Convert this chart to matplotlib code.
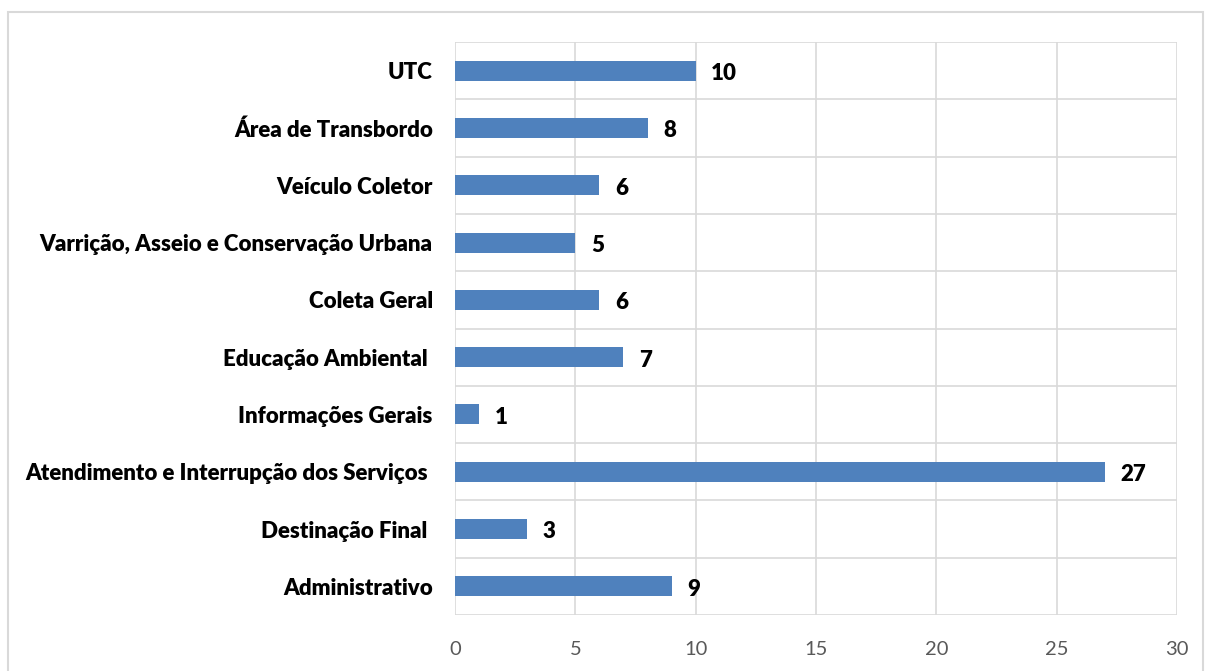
import matplotlib
matplotlib.use('Agg')
import matplotlib.pyplot as plt
import matplotlib.patches as patches
import numpy as np

# categories bottom to top
categories = ['Administrativo', 'Destinação Final ', 'Atendimento e Interrupção dos Serviços ',
              'Informações Gerais', 'Educação Ambiental ', 'Coleta Geral',
              'Varrição, Asseio e Conservação Urbana', 'Veículo Coletor',
              'Área de Transbordo', 'UTC']
values = [9, 3, 27, 1, 7, 6, 5, 6, 8, 10]
x_ticks = [0, 5, 10, 15, 20, 25, 30]

plt.rcParams['font.family'] = ['Lato', 'DejaVu Sans']

fig = plt.figure(figsize=(12.06, 6.71), dpi=100)
ax = fig.add_axes([455/1206, 1-615/671, (1177-455)/1206, (615-42)/671])

#outer chart border
fig.patches.append(patches.Rectangle((8/1206, -0.01), (1203-8)/1206, 1-12/671+0.01,
                                     transform=fig.transFigure, fill=False,
                                     edgecolor='#d9d9d9', linewidth=1.5))

y = np.arange(len(categories))
ax.barh(y, values, height=0.35, color='#4f81bd', zorder=3)

ax.set_xlim(0, 30)
ax.set_ylim(-0.5, len(categories)-0.5)
ax.set_xticks(x_ticks)
ax.set_xticklabels([str(t) for t in x_ticks], fontsize=14.5, color='#595959')
ax.set_yticks(y)
ax.set_yticklabels(categories, fontsize=16, fontweight='heavy', color='black')
ax.tick_params(axis='both', length=0)
ax.tick_params(axis='x', pad=19)
ax.tick_params(axis='y', pad=16)

#grid lines, vertical at ticks and horizontal between categories
for t in x_ticks:
    ax.axvline(t, color='#d9d9d9', linewidth=1.2, zorder=1)
for b in np.arange(-0.5, len(categories), 1):
    ax.axhline(b, color='#d9d9d9', linewidth=1.2, zorder=1)
for s in ax.spines.values():
    s.set_visible(False)

for yi, v in zip(y, values):
    ax.text(v + 0.65, yi - 0.05, str(v), va='center', ha='left',
            fontsize=16, fontweight='heavy', color='black')

plt.savefig('out.png', dpi=100)
